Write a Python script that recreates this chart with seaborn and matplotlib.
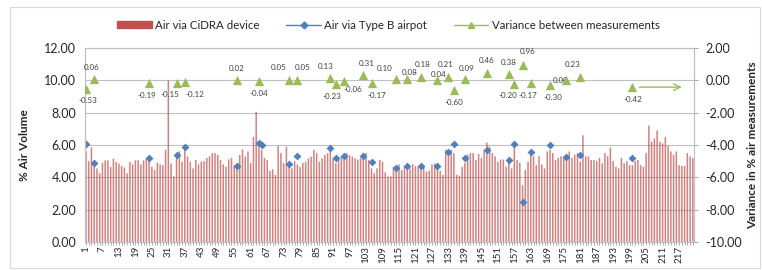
import numpy as np
import pandas as pd
import seaborn as sns
import matplotlib
matplotlib.use('Agg')
import matplotlib.pyplot as plt
from matplotlib.patches import Patch, Rectangle
from matplotlib.lines import Line2D
from matplotlib.ticker import FormatStrFormatter, MultipleLocator

#%% Dados

amostras = list(range(1, 223))

ar_cidra = [
    5.6, 5.0, 5.85, 4.95, 4.55, 4.25, 4.9, 5.05, 5.05, 4.65,
    5.15, 4.95, 4.85, 4.7, 4.6, 4.25, 4.95, 4.8, 5.05, 5.05,
    4.8, 5.05, 5.2, 5.1, 4.65, 4.45, 4.9, 4.8, 4.75, 5.7,
    10.0, 4.85, 4.05, 5.4, 5.6, 4.97, 5.85, 5.28, 4.97, 4.55,
    5.07, 4.8, 4.97, 5.0, 5.2, 5.3, 5.5, 5.5, 5.38, 5.07,
    4.8, 4.65, 5.1, 5.2, 4.75, 4.87, 5.38, 5.73, 5.28, 5.6,
    4.87, 6.5, 8.05, 6.0, 5.7, 5.2, 5.07, 4.4, 4.5, 4.15,
    5.95, 5.5, 4.87, 5.9, 4.75, 4.55, 5.0, 4.8, 4.65, 4.9,
    4.97, 5.17, 5.28, 5.7, 5.5, 4.97, 5.17, 5.38, 5.5, 5.9,
    5.17, 4.87, 5.07, 5.28, 5.38, 5.5, 5.38, 5.28, 5.17, 5.1,
    5.17, 5.5, 5.5, 5.07, 4.55, 4.25, 4.55, 5.07, 4.97, 4.3,
    4.05, 4.05, 4.65, 4.75, 4.8, 4.45, 4.7, 4.65, 4.55, 4.8,
    4.7, 4.65, 4.75, 4.65, 4.35, 4.4, 4.8, 4.85, 4.75, 4.4,
    4.15, 5.7, 5.5, 5.7, 5.5, 4.15, 4.1, 4.65, 4.9, 5.4,
    5.5, 5.5, 5.07, 5.45, 5.2, 5.7, 6.15, 5.9, 5.5, 5.3,
    4.97, 5.1, 5.1, 4.65, 4.97, 4.55, 5.9, 5.07, 4.9, 3.5,
    4.45, 4.97, 5.5, 5.3, 4.75, 5.3, 4.8, 4.55, 5.6, 5.7,
    5.5, 5.07, 5.2, 5.3, 5.2, 5.28, 5.6, 5.2, 5.4, 5.5,
    4.97, 6.6, 5.3, 5.3, 5.07, 5.07, 5.0, 5.2, 4.87, 5.5,
    5.3, 5.85, 5.0, 4.65, 4.55, 5.2, 4.87, 5.0, 4.75, 4.75,
    5.0, 5.07, 4.75, 4.65, 5.5, 7.2, 6.2, 6.4, 6.9, 6.2,
    6.1, 6.5, 5.95, 5.6, 5.4, 5.6, 4.75, 4.7, 4.7, 5.5,
    5.3, 5.2,
]

amostras_tipo_b = [1, 4, 24, 34, 37, 56, 64, 65, 75, 78, 90, 92, 95, 102, 105,
                   114, 118, 123, 129, 133, 135, 139, 147, 155, 157, 160, 163,
                   170, 176, 181, 200]
ar_tipo_b = [6.04, 4.87, 5.2, 5.38, 5.9, 4.7, 6.1, 5.98, 4.82, 5.3, 5.83, 5.2,
             5.3, 5.3, 4.93, 4.6, 4.7, 4.7, 4.7, 5.59, 6.08, 5.17, 5.69, 5.1,
             6.08, 2.5, 5.59, 5.98, 5.28, 5.38, 5.2]

amostras_var = [1, 4, 24, 34, 37, 56, 64, 75, 78, 90, 92, 95, 102, 105, 114,
                118, 123, 129, 133, 135, 139, 147, 155, 157, 160, 163, 170,
                176, 181, 200]
variancia = [-0.53, 0.06, -0.19, -0.15, -0.12, 0.02, -0.04, 0.05, 0.05, 0.13,
             -0.23, -0.06, 0.31, -0.17, 0.10, 0.08, 0.18, 0.04, 0.21, -0.60,
             0.09, 0.46, 0.38, -0.20, 0.96, -0.17, -0.30, 0.00, 0.23, -0.42]

rotulos_x = list(range(1, 223, 6))

# deslocamento (pixels) dos rótulos de dados que ficam encavalados
desloc = {1: (2, -12), 4: (-3, 12), 24: (-2, -12), 34: (-7, -12), 37: (10, -12),
          75: (-11, 12), 78: (5, 12), 90: (-5, 12), 92: (-4, -12), 95: (9, -8),
          102: (3, 12), 105: (5, -12), 114: (-12, 10), 118: (2, 7), 123: (2, 13),
          129: (1, 5), 133: (-3, 12), 139: (2, 10), 157: (-6, -12),
          160: (5, 13), 163: (-3, -12), 170: (3, -12), 176: (-6, 0),
          181: (-8, 12)}

#%% Gráfico

sns.set_style('white')
plt.rcParams['font.family'] = ['Lato', 'DejaVu Sans']

vermelho = '#C0504D'
azul = '#4F81BD'
verde = '#9BBB59'
cinza = '#BFBFBF'

df = pd.DataFrame({'Amostra': amostras, 'CiDRA': ar_cidra})
df_b = pd.DataFrame({'Amostra': amostras_tipo_b, 'TipoB': ar_tipo_b})
df_v = pd.DataFrame({'Amostra': amostras_var, 'Variancia': variancia})

fig, ax1 = plt.subplots(figsize=(7.62, 2.70), dpi=100)
fig.subplots_adjust(left=0.111, right=0.911, top=0.822, bottom=0.104)

sns.barplot(data=df, x='Amostra', y='CiDRA', native_scale=True, color=vermelho,
            saturation=1, width=0.55, linewidth=0, ax=ax1, zorder=2)
for p in ax1.patches:
    p.set_snap(False)
    p.set_alpha(0.72)
sns.scatterplot(data=df_b, x='Amostra', y='TipoB', marker='D', color=azul,
                s=16, edgecolor=azul, linewidth=0, ax=ax1, zorder=3)

ax1.set_xlim(0.5, 222.5)
ax1.set_ylim(0, 12)
ax1.yaxis.set_major_locator(MultipleLocator(2))
ax1.yaxis.set_major_formatter(FormatStrFormatter('%.2f'))
ax1.grid(axis='y', color=cinza, linewidth=0.8, zorder=0)
ax1.set_axisbelow(True)
ax1.set_xticks(rotulos_x)
ax1.set_xticklabels([str(r) for r in rotulos_x], rotation=90, fontsize=7)
ax1.set_xticks(amostras, minor=True)
ax1.tick_params(axis='x', which='both', bottom=True, length=2, width=0.5,
                color='#888888', pad=1)
ax1.tick_params(axis='y', labelsize=9, length=0, pad=6)
ax1.set_xlabel('')
ax1.set_ylabel('% Air Volume', fontsize=8.5, fontweight='bold', labelpad=10)
for s in ax1.spines.values():
    s.set_color(cinza)
    s.set_linewidth(0.8)

ax2 = ax1.twinx()
sns.scatterplot(data=df_v, x='Amostra', y='Variancia', marker='^', color=verde,
                s=45, edgecolor=verde, linewidth=0, ax=ax2, zorder=4)
ax2.set_ylim(-10, 2)
ax2.yaxis.set_major_locator(MultipleLocator(2))
ax2.yaxis.set_major_formatter(FormatStrFormatter('%.2f'))
ax2.tick_params(axis='y', labelsize=9, length=3, width=0.5, color='#888888', pad=5)
ax2.set_ylabel('Variance in % air measurements', fontsize=8.5, fontweight='bold',
               labelpad=4)
ax2.grid(False)
for s in ax2.spines.values():
    s.set_color(cinza)
    s.set_linewidth(0.8)

# rótulos de dados da variância
for a, v in zip(amostras_var, variancia):
    dx, dy = desloc.get(a, (0, 12 if v >= 0 else -12))
    ax2.annotate(f'{v:.2f}', (a, v), xytext=(dx, dy), textcoords='offset pixels',
                 ha='center', va='center', fontsize=5.8, color='#404040')

# seta verde após o último ponto
ax2.annotate('', xy=(219, variancia[-1]), xytext=(201.5, variancia[-1]),
             arrowprops=dict(arrowstyle='->', color=verde, lw=1.0,
                             mutation_scale=12))

handles = [Patch(color=vermelho, label='Air via CiDRA device'),
           Line2D([], [], color=azul, marker='D', markersize=3.5, lw=1,
                  label='Air via Type B airpot'),
           Line2D([], [], color=verde, marker='^', markersize=5, lw=1,
                  label='Variance between measurements')]
fig.legend(handles=handles, loc='center', bbox_to_anchor=(0.51, 0.907), ncol=3,
           frameon=False, fontsize=8.3, handlelength=3.0, columnspacing=2.3,
           handleheight=0.6, handletextpad=0.3)

fig.patches.append(Rectangle((0.013, 0.008), 0.985, 0.965, transform=fig.transFigure,
                             fill=False, edgecolor='#D9D9D9', linewidth=0.8))

fig.savefig('out.png', dpi=100)
